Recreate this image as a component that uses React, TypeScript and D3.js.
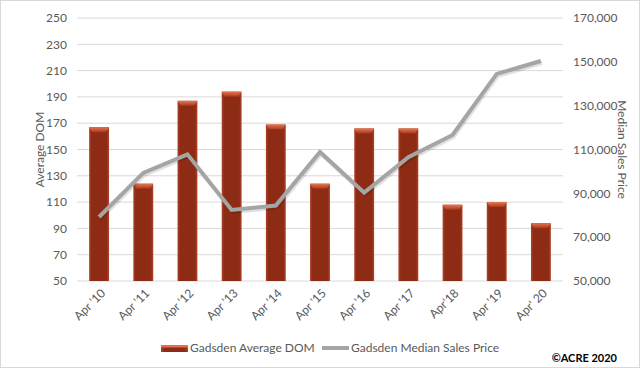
import * as d3 from "d3";
import { useEffect, useRef } from "react";

const years = ["Apr '10", "Apr '11", "Apr '12", "Apr '13", "Apr '14", "Apr '15", "Apr '16", "Apr '17", "Apr'18", "Apr '19", "Apr' 20"];
const avgDom = [167, 124, 187, 194, 169, 124, 166, 166, 108, 110, 94];
const medianPrice = [79200, 99300, 107800, 82400, 84400, 108900, 90300, 106500, 116600, 144500, 150400];
const leftTicks = [50, 70, 90, 110, 130, 150, 170, 190, 210, 230, 250];
const rightTicks = [50000, 70000, 90000, 110000, 130000, 150000, 170000];

function App() {
  const ref = useRef<SVGSVGElement | null>(null);

  useEffect(() => {
    const width = 640, height = 368;
    const margin = { top: 18, right: 77, bottom: 87, left: 77 };
    const svg = d3.select(ref.current);
    svg.selectAll("*").remove();

    const font = "Lato, 'Open Sans', sans-serif";
    const grey = "#595959";

    svg.append("rect")
      .attr("x", 0.5).attr("y", 0.5)
      .attr("width", width - 1).attr("height", height - 1)
      .attr("fill", "#fff").attr("stroke", "#d9d9d9");

    const defs = svg.append("defs");
    const barGrad = defs.append("linearGradient").attr("id", "barGrad")
      .attr("x1", "0").attr("x2", "1").attr("y1", "0").attr("y2", "0");
    barGrad.append("stop").attr("offset", "0").attr("stop-color", "#b0442a");
    barGrad.append("stop").attr("offset", "0.12").attr("stop-color", "#8e2b14");
    barGrad.append("stop").attr("offset", "0.88").attr("stop-color", "#8e2b14");
    barGrad.append("stop").attr("offset", "1").attr("stop-color", "#b0442a");
    const capGrad = defs.append("linearGradient").attr("id", "capGrad")
      .attr("x1", "0").attr("x2", "0").attr("y1", "0").attr("y2", "1");
    capGrad.append("stop").attr("offset", "0").attr("stop-color", "#e8774f");
    capGrad.append("stop").attr("offset", "1").attr("stop-color", "#a8391d");

    const x = d3.scaleBand()
      .domain(years)
      .range([margin.left, width - margin.right])
      .paddingInner(0.55).paddingOuter(0.275);
    const yL = d3.scaleLinear().domain([50, 250]).range([height - margin.bottom, margin.top]);
    const yR = d3.scaleLinear().domain([50000, 170000]).range([height - margin.bottom, margin.top]);

    // gridlines
    svg.append("g")
      .selectAll("line")
      .data(leftTicks)
      .join("line")
      .attr("x1", margin.left).attr("x2", width - margin.right)
      .attr("y1", d => yL(d)).attr("y2", d => yL(d))
      .attr("stroke", "#d9d9d9").attr("stroke-width", 1);

    // left ticks
    svg.append("g")
      .selectAll("text")
      .data(leftTicks)
      .join("text")
      .attr("x", 67).attr("y", d => yL(d))
      .attr("dy", "0.35em")
      .attr("text-anchor", "end")
      .attr("font-family", font).attr("font-size", 12).attr("fill", grey)
      .text(d => d);

    // right ticks
    svg.append("g")
      .selectAll("text")
      .data(rightTicks)
      .join("text")
      .attr("x", 573).attr("y", d => yR(d))
      .attr("dy", "0.35em")
      .attr("font-family", font).attr("font-size", 12).attr("fill", grey)
      .text(d => d3.format(",")(d));

    // axis titles
    svg.append("text")
      .attr("transform", `translate(40,${(yL(50) + yL(250)) / 2}) rotate(-90)`)
      .attr("text-anchor", "middle").attr("dy", "0.35em")
      .attr("font-family", font).attr("font-size", 12).attr("fill", grey)
      .text("Average DOM");
    svg.append("text")
      .attr("transform", `translate(622,${(yL(50) + yL(250)) / 2}) rotate(90)`)
      .attr("text-anchor", "middle").attr("dy", "0.35em")
      .attr("font-family", font).attr("font-size", 12).attr("fill", grey)
      .text("Median Sales Price");

    // bars
    const bars = svg.append("g")
      .selectAll("g")
      .data(years)
      .join("g");
    bars.append("rect")
      .attr("x", d => x(d)!)
      .attr("y", (_, i) => yL(avgDom[i]))
      .attr("width", x.bandwidth())
      .attr("height", (_, i) => yL(50) - yL(avgDom[i]))
      .attr("fill", "url(#barGrad)");
    bars.append("path")
      .attr("d", (d, i) => {
        const x0 = x(d)!, x1 = x0 + x.bandwidth(), t = yL(avgDom[i]);
        return `M${x0},${t}L${x1},${t}L${x1 - 3},${t + 5}L${x0 + 3},${t + 5}Z`;
      })
      .attr("fill", "url(#capGrad)");

    // line
    const line = d3.line<number>()
      .x((_, i) => x(years[i])! + x.bandwidth() / 2)
      .y(d => yR(d));
    svg.append("path")
      .datum(medianPrice)
      .attr("d", line)
      .attr("transform", "translate(1,2)")
      .attr("fill", "none").attr("stroke", "rgba(0,0,0,0.12)")
      .attr("stroke-width", 4).attr("stroke-linejoin", "miter");
    svg.append("path")
      .datum(medianPrice)
      .attr("d", line)
      .attr("fill", "none").attr("stroke", "#a5a5a5")
      .attr("stroke-width", 4).attr("stroke-linejoin", "miter");

    // x labels
    svg.append("g")
      .selectAll("text")
      .data(years)
      .join("text")
      .attr("transform", d => `translate(${x(d)! + x.bandwidth() / 2 + 4},${yL(50) + 10}) rotate(-45)`)
      .attr("text-anchor", "end").attr("dy", "0.35em")
      .attr("font-family", font).attr("font-size", 12).attr("fill", grey)
      .text(d => d);

    // legend
    const lg = svg.append("g");
    lg.append("rect").attr("x", 161).attr("y", 345).attr("width", 27).attr("height", 7).attr("fill", "url(#barGrad)");
    lg.append("rect").attr("x", 161).attr("y", 345).attr("width", 27).attr("height", 2.5).attr("fill", "#e07050");
    lg.append("text").attr("x", 190).attr("y", 348).attr("dy", "0.35em")
      .attr("font-family", font).attr("font-size", 12).attr("fill", grey)
      .text("Gadsden Average DOM");
    lg.append("line").attr("x1", 322).attr("x2", 349).attr("y1", 348).attr("y2", 348)
      .attr("stroke", "#a5a5a5").attr("stroke-width", 4);
    lg.append("text").attr("x", 351).attr("y", 348).attr("dy", "0.35em")
      .attr("font-family", font).attr("font-size", 12).attr("fill", grey)
      .text("Gadsden Median Sales Price");

    svg.append("text")
      .attr("x", 617).attr("y", 358).attr("dy", "0.35em")
      .attr("text-anchor", "end")
      .attr("font-family", font).attr("font-size", 11).attr("font-weight", "bold").attr("fill", "#000")
      .text("©ACRE 2020");
  }, []);

  return <svg ref={ref} width={640} height={368} style={{ position: "absolute", left: 0, top: 0 }}></svg>;
}

export default App;
